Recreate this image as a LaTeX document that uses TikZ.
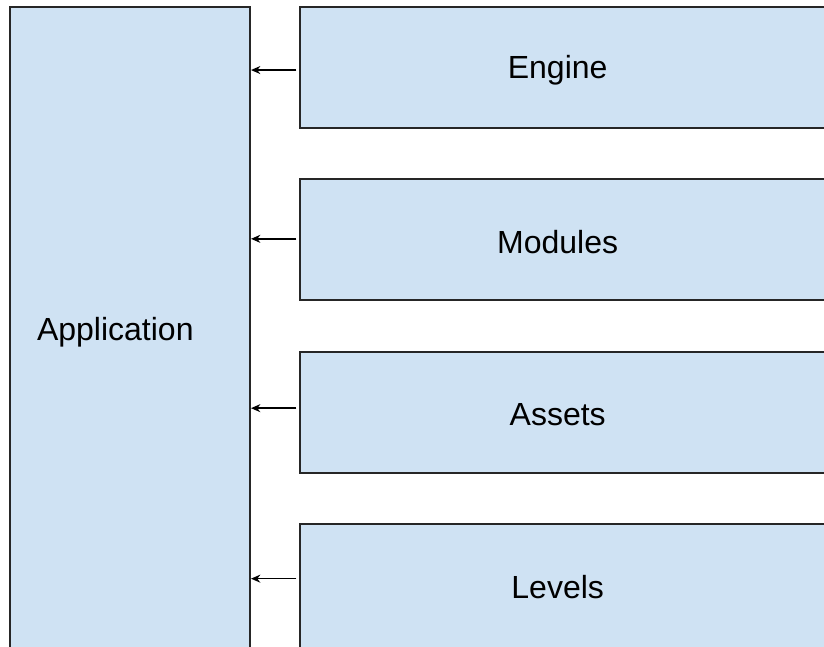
\documentclass[tikz,border=0pt]{standalone}
\usepackage{fontspec}
\setmainfont{Liberation Sans}
\usetikzlibrary{positioning,arrows.meta}

\definecolor{boxblue}{HTML}{CFE2F3}

\begin{document}
\begin{tikzpicture}[x=0.75pt, y=-0.75pt, node distance=37pt,
   layer/.style={draw=black!85, line width=1.5pt, fill=boxblue, minimum width=405pt, minimum height=90.75pt, inner sep=0pt},
   feed/.style={-{Stealth[length=7pt,width=6pt]}, line width=1.1pt},
   every node/.style={font=\fontsize{24}{28}\selectfont}]
   \useasboundingbox (0,0) rectangle (824,646);
   \clip (0,0) rectangle (824,646);
   \node[layer, minimum width=180pt, minimum height=487.5pt, anchor=north west] (app) at (9,6) {};
   \node (app_t) at ([xshift=-11pt]app.center) {Application};
   \node[layer, anchor=north west] (engine) at (299,6) {};
   \node[layer] (modules) [below = of engine] {};
   \node[layer] (assets) [below = of modules] {};
   \node[layer, minimum height=94pt] (levels) [below = of assets] {};
   \node (engine_t) at ([xshift=194pt, yshift=-2pt]engine.west) {Engine};
   \node (modules_t) at ([xshift=194pt, yshift=-2pt]modules.west) {Modules};
   \node (assets_t) at ([xshift=194pt, yshift=-2pt]assets.west) {Assets};
   \node (levels_t) at ([xshift=194pt, yshift=-0.5pt]levels.west) {Levels};
   \foreach \n/\dy in {engine/-1.9,modules/0.75,assets/3,levels/6}
      \draw[feed] ([xshift=-2pt, yshift=\dy pt]\n.west) -- ([yshift=\dy pt]\n.west -| app.east);
\end{tikzpicture}
\end{document}
